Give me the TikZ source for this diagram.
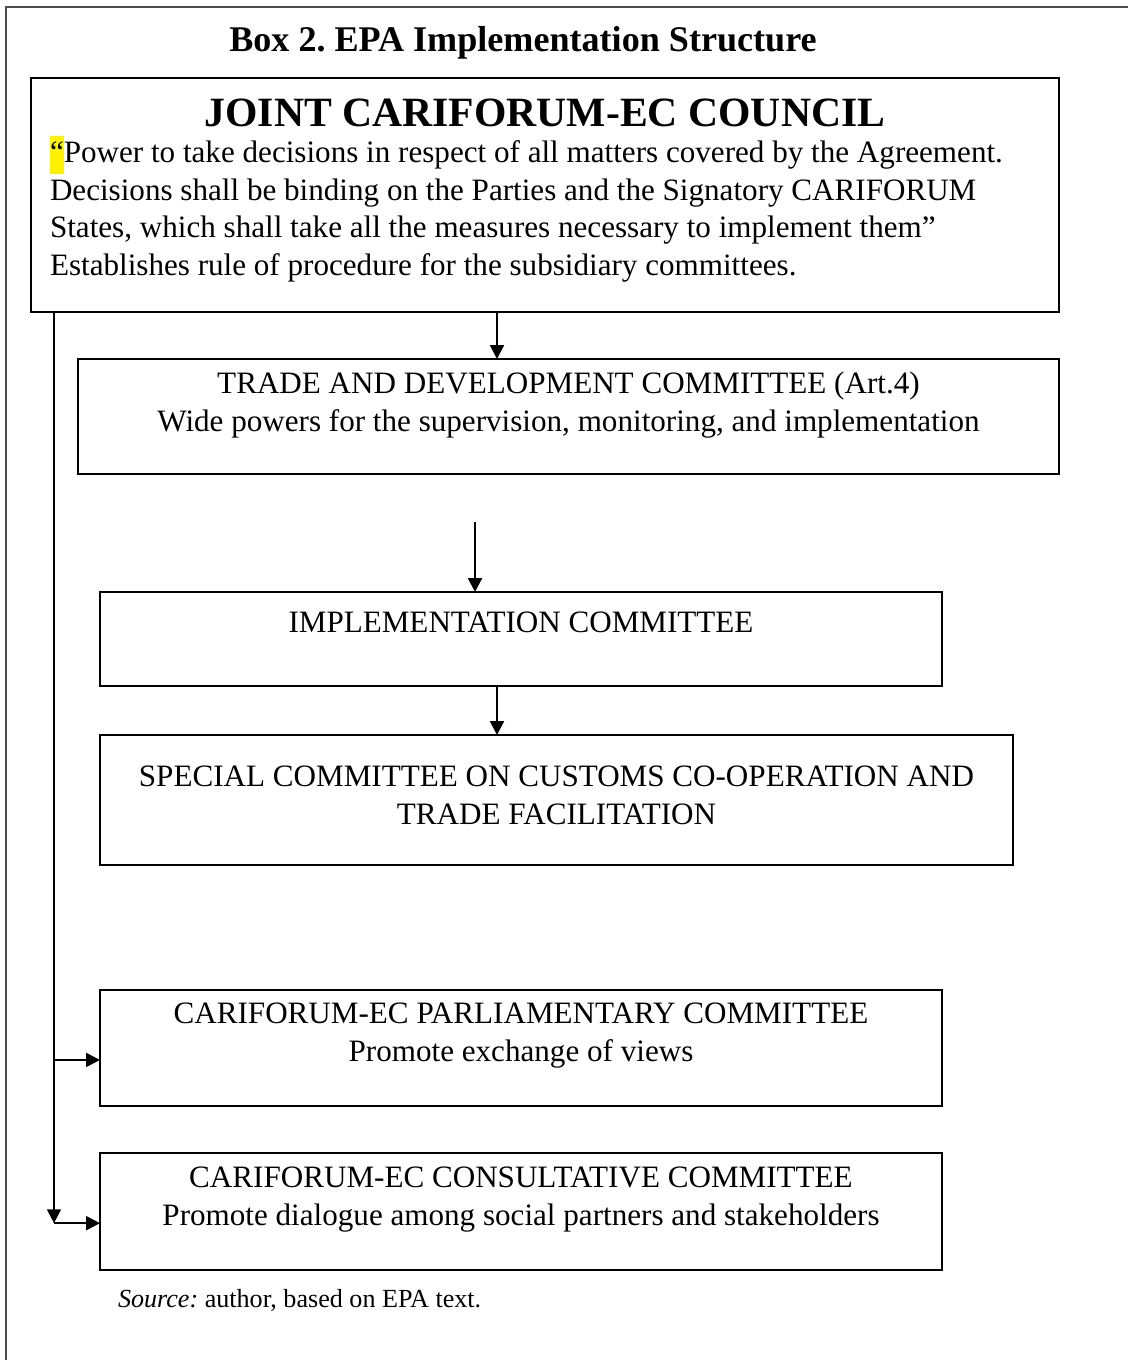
\documentclass[tikz,border=0pt]{standalone}
\usepackage{fontspec}
\setmainfont{Liberation Serif}
\usepackage{xcolor}
\usetikzlibrary{arrows.meta, positioning}
\setlength{\fboxsep}{0pt}
\frenchspacing
\newcommand{\pxu}{0.36pt}

\begin{document}
\begin{tikzpicture}[x=0.36pt, y=-0.36pt,
					every node/.style = {inner sep=0pt, outer sep=0pt, font=\fontsize{11.2}{13.6}\selectfont}]

\tikzstyle{frame}=[draw=black!70, line width=0.7pt]
\tikzstyle{cbox}=[draw, line width=0.75pt, anchor=north west]
\tikzstyle{ctext}=[align=center, execute at begin node=\strut]
\tikzstyle{arr}=[line width=0.75pt, -{Triangle[length=5pt, width=5pt]}]

\useasboundingbox (0,0) rectangle (1128,1360);
\draw[frame] (6,1360) -- (6,7) -- (1128,7);

\node[anchor=base, font=\fontsize{13}{15}\selectfont\bfseries] (boxtitle) at (523,52) {Box 2. EPA Implementation Structure};

\node[cbox, minimum width=1028*\pxu, minimum height=234*\pxu] (council) at (31,78) {};
\node[font=\fontsize{15}{18}\selectfont\bfseries, below=7.5pt of council.north] (counciltitle) {JOINT CARIFORUM-EC COUNCIL};
\node[anchor=north west, align=left] (councilbody) at (50,136) {\colorbox{yellow}{\strut“}Power to take decisions in respect of all matters covered by the Agreement.\\
	Decisions shall be binding on the Parties and the Signatory CARIFORUM\\
	States, which shall take all the measures necessary to implement them”\\
	Establishes rule of procedure for the subsidiary committees.};

\node[cbox, minimum width=981*\pxu, minimum height=115*\pxu] (tdc) at (78,359) {};
\node[ctext, below=4.7pt of tdc.north] (tdctext) {TRADE AND DEVELOPMENT COMMITTEE (Art.4)\\ Wide powers for the supervision, monitoring, and implementation};

\node[cbox, minimum width=842*\pxu, minimum height=94*\pxu] (impl) at (100,592) {};
\node[ctext, below=5pt of impl.north] (impltext) {IMPLEMENTATION COMMITTEE};

\node[cbox, minimum width=913*\pxu, minimum height=130*\pxu] (special) at (100,735) {};
\node[ctext, below=11.2pt of special.north] (specialtext) {SPECIAL COMMITTEE ON CUSTOMS CO-OPERATION AND\\ TRADE FACILITATION};

\node[cbox, minimum width=842*\pxu, minimum height=116*\pxu] (parl) at (100,990) {};
\node[ctext, below=4.7pt of parl.north] (parltext) {CARIFORUM-EC PARLIAMENTARY COMMITTEE\\ Promote exchange of views};

\node[cbox, minimum width=842*\pxu, minimum height=117*\pxu] (consult) at (100,1153) {};
\node[ctext, below=5pt of consult.north] (consulttext) {CARIFORUM-EC CONSULTATIVE COMMITTEE\\ Promote dialogue among social partners and stakeholders};

\node[anchor=west, font=\fontsize{9.4}{11}\selectfont] (source) at (118,1300) {\textit{Source:} author, based on EPA text.};

\coordinate (spine) at (54,0);
\coordinate (mid) at (497,0);
\coordinate (gap) at (475,522);
\coordinate (parlin) at ([yshift=-4.3pt]parl.west);
\coordinate (consultin) at ([yshift=-4.2pt]consult.west);

\draw[arr] (council.south -| mid) -- (tdc.north -| mid);
\draw[arr] (gap) -- (gap |- impl.north);
\draw[arr] (impl.south -| mid) -- (special.north -| mid);
\draw[arr] (council.south -| spine) -- (spine |- consultin);
\draw[arr] (spine |- parlin) -- (parlin);
\draw[arr] (spine |- consultin) -- (consultin);
\end{tikzpicture}
\end{document}
